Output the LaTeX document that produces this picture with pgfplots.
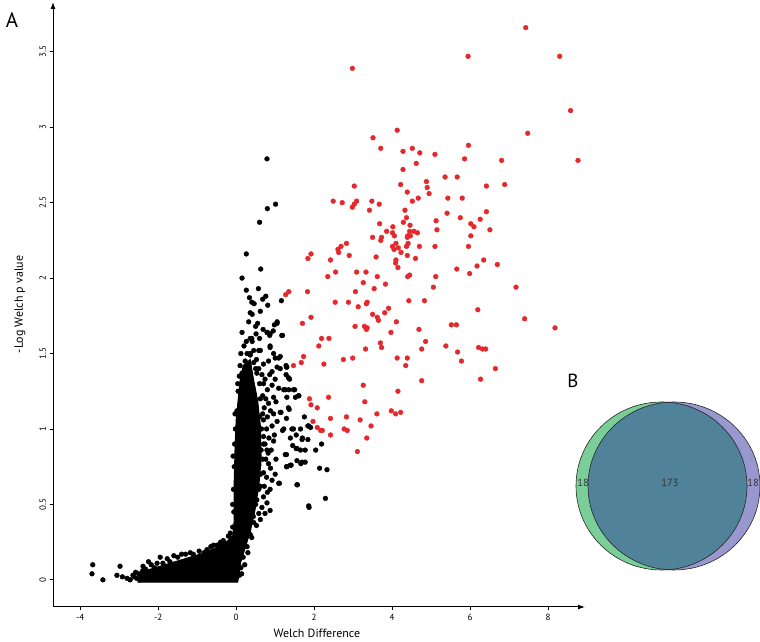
\documentclass[border=0pt]{standalone}
\usepackage{fontspec}
\setmainfont{PT Sans}
\usepackage{pgfplots}
\pgfplotsset{compat=1.18}
\usepackage{pgfplotstable}
\usetikzlibrary{arrows.meta}
\definecolor{redpt}{RGB}{228,40,44}
\definecolor{vgreen}{RGB}{122,206,152}
\definecolor{vblue}{RGB}{152,152,206}
\definecolor{vmid}{RGB}{80,130,153}

\pgfplotstableread{
x y
7.43 3.66
5.95 3.47
8.30 3.47
2.98 3.39
8.58 3.11
4.13 2.98
7.48 2.96
3.51 2.93
3.71 2.86
4.28 2.84
4.52 2.86
4.71 2.83
5.10 2.82
5.96 2.88
5.86 2.79
6.81 2.78
8.77 2.78
4.62 2.76
4.28 2.72
5.36 2.67
5.67 2.67
3.03 2.61
4.22 2.62
4.88 2.64
4.90 2.60
4.95 2.56
4.39 2.57
6.42 2.61
6.89 2.62
2.49 2.51
2.72 2.50
3.03 2.49
3.09 2.51
2.98 2.47
3.48 2.51
3.67 2.49
3.42 2.45
4.52 2.51
4.67 2.53
5.43 2.53
5.80 2.53
4.33 2.45
5.41 2.43
6.42 2.44
4.37 2.40
4.29 2.37
5.13 2.38
5.75 2.40
6.26 2.39
6.02 2.36
6.10 2.34
6.51 2.32
3.68 2.36
4.02 2.34
4.46 2.35
3.86 2.31
4.01 2.30
4.06 2.28
4.45 2.31
4.56 2.31
4.65 2.30
5.15 2.32
6.02 2.28
3.50 2.27
3.73 2.27
3.71 2.25
4.40 2.28
4.47 2.28
4.39 2.27
2.83 2.23
2.69 2.21
2.61 2.19
2.63 2.17
4.01 2.21
4.10 2.23
4.16 2.20
4.05 2.19
4.23 2.17
4.37 2.21
4.41 2.23
4.70 2.21
5.10 2.21
5.96 2.21
2.90 2.15
1.92 2.16
1.84 2.13
4.39 2.15
4.60 2.13
3.59 2.14
2.42 2.12
4.10 2.12
4.09 2.10
4.15 2.07
6.35 2.12
6.18 2.08
6.70 2.09
5.66 2.06
5.99 2.03
2.55 2.04
2.35 2.01
3.09 2.04
3.33 2.04
3.62 2.01
3.26 1.97
3.83 1.96
4.40 2.01
4.45 2.02
5.12 2.01
5.06 1.94
3.54 1.93
3.06 1.91
1.83 1.91
1.35 1.91
1.27 1.89
7.18 1.94
2.54 1.84
2.88 1.84
3.36 1.84
3.34 1.83
4.43 1.85
4.83 1.85
3.13 1.81
3.91 1.80
6.20 1.79
3.81 1.77
3.50 1.76
1.92 1.74
3.62 1.74
3.65 1.72
7.40 1.73
1.70 1.70
4.11 1.71
3.05 1.68
3.29 1.68
3.36 1.67
3.34 1.66
5.52 1.69
5.65 1.69
8.18 1.67
4.69 1.66
3.97 1.64
2.19 1.60
2.38 1.60
2.12 1.55
3.70 1.57
3.73 1.54
3.32 1.53
4.86 1.58
4.76 1.53
5.38 1.55
5.68 1.51
6.22 1.54
6.32 1.53
6.40 1.53
5.78 1.45
6.65 1.40
1.73 1.48
1.67 1.44
1.47 1.42
2.25 1.43
2.75 1.46
2.99 1.47
4.13 1.47
4.39 1.47
4.35 1.42
4.76 1.32
6.27 1.33
3.26 1.29
4.15 1.25
2.37 1.21
1.88 1.20
1.92 1.16
3.30 1.18
2.08 1.14
3.98 1.12
4.09 1.10
4.22 1.11
3.61 1.10
2.83 1.08
2.42 1.07
3.18 1.06
1.97 1.05
3.46 1.02
2.08 1.01
2.17 0.99
2.21 0.99
2.77 1.00
2.85 0.99
2.42 0.96
3.35 0.94
3.11 0.85
}\redtable

\pgfplotstableread{
x y
0.79 2.79
0.80 2.46
1.01 2.49
0.60 2.37
0.26 2.16
0.63 2.06
0.15 2.00
0.26 1.92
0.57 1.93
0.34 1.87
0.40 1.84
0.46 1.83
0.68 1.86
0.76 1.88
0.81 1.82
1.16 1.85
0.62 1.78
0.36 1.77
0.41 1.76
0.32 1.71
0.55 1.70
1.05 1.71
0.98 1.69
0.69 1.66
0.80 1.64
0.95 1.65
0.15 1.64
0.51 1.63
0.86 1.62
1.19 1.62
0.36 1.60
0.40 1.60
0.62 1.52
0.87 1.55
1.17 1.62
0.87 1.63
0.36 1.50
0.23 1.45
0.45 1.44
0.70 1.43
0.83 1.45
1.09 1.47
0.15 1.37
0.53 1.37
0.92 1.38
1.13 1.40
1.30 1.41
0.70 1.30
0.92 1.29
1.09 1.27
1.26 1.26
1.47 1.26
0.96 1.21
1.30 1.21
1.60 1.22
0.83 1.17
1.15 1.11
1.34 1.14
0.96 1.10
0.70 1.06
0.92 1.02
1.22 1.00
1.43 1.00
1.65 1.00
1.86 1.02
0.70 0.95
0.96 0.92
1.39 0.94
1.69 0.93
0.79 0.86
1.26 0.83
1.56 0.87
1.77 0.86
0.83 0.77
1.39 0.76
1.30 0.75
1.69 0.78
0.70 0.71
1.00 0.70
0.62 0.62
0.87 0.60
1.09 0.64
1.56 0.63
0.53 0.53
0.79 0.51
0.87 0.46
2.29 0.54
1.86 0.49
0.62 0.40
0.45 0.38
0.32 0.33
-0.46 0.23
-0.24 0.22
0.96 1.50
1.00 1.47
1.05 1.41
1.28 1.42
1.28 1.36
1.37 1.33
1.22 1.26
1.35 1.26
1.50 1.26
1.52 1.21
1.61 1.22
1.36 1.13
1.13 1.11
1.29 1.07
1.75 1.08
1.84 1.02
1.91 1.01
1.19 0.99
1.47 1.00
1.54 0.96
1.70 0.94
1.84 0.93
2.19 0.90
1.45 0.89
1.54 0.87
1.65 0.86
2.04 0.86
1.56 0.79
1.66 0.77
1.77 0.78
1.29 0.83
1.29 0.75
1.41 0.76
2.14 0.74
2.33 0.73
1.11 0.64
1.57 0.63
1.87 0.48
0.41 1.58
0.79 1.64
1.05 1.70
0.36 1.49
0.58 1.52
0.87 1.54
1.13 1.48
1.29 1.41
1.34 1.34
-3.68 0.10
-3.70 0.04
-3.42 0.00
-2.98 0.09
-3.06 0.03
-2.92 0.02
-2.80 0.01
-2.72 0.00
-2.62 0.02
-2.55 0.01
-2.40 0.06
-2.47 0.00
-2.30 0.03
-2.20 0.05
-2.39 0.09
-2.25 0.12
-2.03 0.11
-1.95 0.15
-1.77 0.14
-1.60 0.16
-1.40 0.17
-1.18 0.18
-0.82 0.18
-0.65 0.22
-0.49 0.23
-0.33 0.26
-0.15 0.31
-0.06 0.45
-0.07 0.60
-0.05 0.75
-0.04 0.90
-0.02 1.00
0.02 1.12
0.05 1.25
0.08 1.35
0.12 1.50
0.20 1.55
0.28 1.50
0.50 1.40
0.60 1.30
0.62 1.20
0.68 1.10
0.65 1.00
0.70 0.90
0.68 0.80
0.62 0.70
0.58 0.60
0.50 0.50
0.44 0.42
0.36 0.30
0.28 0.22
0.18 0.15
0.12 0.08
0.08 0.03
0.45 1.52
0.52 1.46
0.58 1.40
0.66 1.36
0.74 1.33
0.80 1.26
0.76 1.20
0.68 1.22
0.72 1.14
0.80 1.08
0.78 1.00
0.84 0.94
0.74 0.90
0.82 0.84
0.76 0.80
0.88 0.74
0.78 0.68
0.72 0.62
0.80 0.58
0.70 0.55
0.66 0.48
0.74 0.44
0.58 0.44
0.52 0.36
0.40 0.28
0.30 0.18
0.22 0.10
0.14 0.04
0.60 1.08
0.64 0.86
0.58 0.76
0.90 0.86
0.92 0.66
1.02 0.80
0.98 0.96
1.05 1.05
1.02 1.18
0.88 1.12
0.86 1.36
1.00 1.33
0.60 1.60
0.50 1.68
0.26 1.58
0.10 1.42
0.04 1.30
-0.03 1.10
-0.08 0.82
-0.09 0.50
-0.09 0.35
-0.20 0.29
-0.40 0.25
-0.58 0.23
-0.75 0.20
-0.95 0.19
-1.10 0.17
-1.30 0.17
-1.50 0.15
-1.70 0.12
-1.88 0.11
-2.10 0.08
-2.18 0.10
-2.32 0.07
-2.50 0.04
-2.58 0.05
-2.65 0.03
}\blacktable

\pgfplotstableread{
x y
-2.52 -0.015
-2.47 0.05
-1.95 0.09
-1.44 0.13
-0.93 0.17
-0.54 0.21
-0.21 0.26
-0.08 0.30
-0.05 0.40
-0.05 0.66
-0.03 0.86
0.00 1.06
0.05 1.19
0.10 1.32
0.18 1.42
0.36 1.46
0.45 1.32
0.55 1.19
0.62 1.02
0.64 0.80
0.58 0.62
0.48 0.46
0.36 0.32
0.24 0.22
0.12 0.12
0.04 -0.015
}\coretable

\begin{document}
\begin{tikzpicture}[x=1bp,y=1bp]
\useasboundingbox (0,0) rectangle (760,642);
\begin{axis}[
  at={(53bp,35bp)}, anchor=south west,
  scale only axis, width=532bp, height=605bp,
  xmin=-4.70, xmax=8.95, ymin=-0.18, ymax=3.83,
  axis lines=left,
  axis line style={line width=1bp, -{Latex[length=7bp,width=5bp]}},
  xtick={-4,-2,0,2,4,6,8}, ytick={0,0.5,1,1.5,2,2.5,3,3.5},
  tick align=outside, major tick length=3.5bp,
  tick style={line width=0.8bp, black},
  /pgf/number format/assume math mode=true,
  tick label style={font=\fontsize{9}{10}\selectfont},
  yticklabel style={rotate=90, anchor=south},
  xlabel={Welch Difference}, ylabel={-Log Welch p value},
  label style={font=\fontsize{12}{14}\selectfont},
  xlabel style={at={(axis description cs:0.496,-0.043)}, anchor=center},
  ylabel style={at={(axis description cs:-0.062,0.5)}, anchor=center},
  clip=false,
]
\addplot[fill=black, draw=black, line width=1bp] table {\coretable} -- cycle;
\addplot[only marks, mark=*, mark size=2.4bp, color=black, draw=black, fill=black] table {\blacktable};
\addplot[only marks, mark=*, mark size=2.4bp, color=redpt, draw=redpt, fill=redpt] table {\redtable};
\end{axis}
\begin{axis}[
  at={(0bp,0bp)}, anchor=south west,
  scale only axis, width=760bp, height=642bp,
  xmin=0, xmax=760, ymin=0, ymax=642,
  hide axis, clip=false,
]
\fill[vgreen] (axis cs:661.5,156) ellipse [x radius=85.5, y radius=84];
\fill[vblue] (axis cs:674,156) ellipse [x radius=86, y radius=84];
\begin{scope}
\clip (axis cs:661.5,156) ellipse [x radius=85.5, y radius=84];
\fill[vmid] (axis cs:674,156) ellipse [x radius=86, y radius=84];
\end{scope}
\draw[black!85, line width=0.6bp] (axis cs:661.5,156) ellipse [x radius=85.5, y radius=84];
\draw[black!85, line width=0.6bp] (axis cs:674,156) ellipse [x radius=86, y radius=84];
\node[font=\fontsize{10.5}{12}\selectfont, text=black!80] at (axis cs:583,159) {18};
\node[font=\fontsize{10.5}{12}\selectfont, text=black!80] at (axis cs:670,159) {173};
\node[font=\fontsize{10.5}{12}\selectfont, text=black!80] at (axis cs:753,159) {18};
\node[font=\fontsize{21}{24}\selectfont] at (axis cs:12,622) {A};
\node[font=\fontsize{19}{22}\selectfont] at (axis cs:573,261) {B};
\end{axis}
\end{tikzpicture}
\end{document}
